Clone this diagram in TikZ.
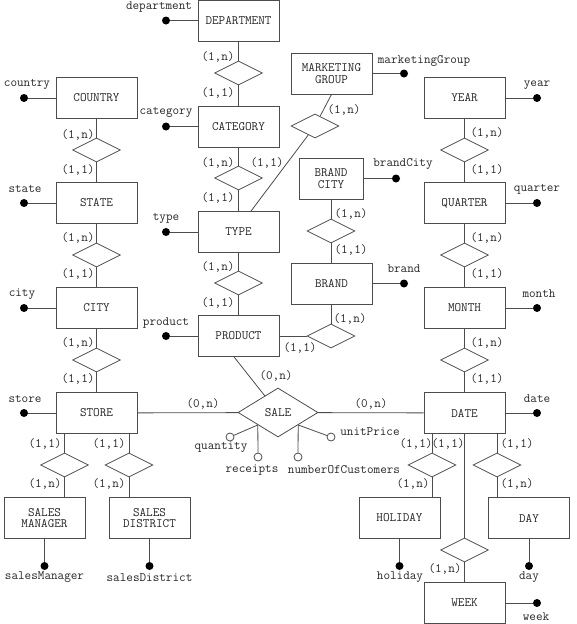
\documentclass[tikz,border=0pt]{standalone}
\usepackage{fontspec}
\usetikzlibrary{shapes.geometric,calc}
\begin{document}
\begin{tikzpicture}[x=1pt,y=-1pt,
  every node/.style={font=\ttfamily\fontsize{12.8}{11.5}\selectfont, text=black!85},
  ent/.style={draw=black!70, line width=0.8pt, minimum width=81pt, minimum height=41pt, inner sep=0pt, align=center},
  rel/.style={draw=black!70, line width=0.8pt, diamond, minimum width=48pt, minimum height=24pt, inner sep=0pt},
  conn/.style={draw=black!70, line width=0.8pt},
  att/.style={circle, fill=black, minimum size=8pt, inner sep=0pt},
  oatt/.style={circle, draw=black!70, fill=white, line width=0.8pt, minimum size=8pt, inner sep=0pt},
  lab/.style={inner sep=0pt}
]
\useasboundingbox (0,0) rectangle (576,624);
% entities
\node[ent] (dept) at (238.5,20.5) {DEPARTMENT};
\node[ent] (cat) at (238.5,126.5) {CATEGORY};
\node[ent] (type) at (238.5,232) {TYPE};
\node[ent] (prod) at (238.5,336) {PRODUCT};
\node[ent] (country) at (96.5,98) {COUNTRY};
\node[ent] (state) at (96.5,203) {STATE};
\node[ent] (city) at (96.5,308) {CITY};
\node[ent] (store) at (96.5,413) {STORE};
\node[ent] (mg) at (331.5,73.5) {MARKETING\\GROUP};
\node[ent, minimum width=64pt] (bcity) at (331,178.5) {BRAND\\CITY};
\node[ent] (brand) at (331.5,283.5) {BRAND};
\node[ent] (year) at (464.5,98) {YEAR};
\node[ent] (quarter) at (464.5,203) {QUARTER};
\node[ent] (month) at (464.5,308) {MONTH};
\node[ent] (date) at (464.5,413) {DATE};
\node[ent] (holiday) at (399.5,518) {HOLIDAY};
\node[ent] (day) at (529,518) {DAY};
\node[ent] (week) at (464.5,603) {WEEK};
\node[ent] (sm) at (44.5,518) {SALES\\MANAGER};
\node[ent] (sd) at (149.5,518) {SALES\\DISTRICT};
% relationships
\node[rel] (d1) at (238.5,73) {};
\node[rel] (d2) at (238.5,178) {};
\node[rel] (d3) at (238.5,283) {};
\node[rel] (mgd) at (315,126) {};
\node[rel] (c1) at (96.5,150) {};
\node[rel] (c2) at (96.5,255) {};
\node[rel] (c3) at (96.5,360) {};
\node[rel] (y1) at (464.5,150) {};
\node[rel] (y2) at (464.5,255) {};
\node[rel] (y3) at (464.5,360) {};
\node[rel] (bc) at (331,231) {};
\node[rel] (bp) at (331,336) {};
\node[rel, minimum width=80pt, minimum height=49pt] (sale) at (278,412.5) {SALE};
\node[rel] (hd) at (432,465) {};
\node[rel] (dd) at (497,465) {};
\node[rel] (wd) at (464.5,550) {};
\node[rel] (smd) at (64.5,465) {};
\node[rel] (sdd) at (129,465) {};
% connectors
\draw[conn] (dept) -- (d1) -- (cat) -- (d2) -- (type) -- (d3) -- (prod);
\draw[conn] (country) -- (c1) -- (state) -- (c2) -- (city) -- (c3) -- (store);
\draw[conn] (year) -- (y1) -- (quarter) -- (y2) -- (month) -- (y3) -- (date);
\draw[conn] (mg.south) -- (mgd);
\draw[conn] (mgd) -- ($(type.north)+(12.5,0)$);
\draw[conn] (bcity) -- (bc) -- (bcity |- brand.north);
\draw[conn] (brand.south -| bp) -- (bp);
\draw[conn] (prod) -- (bp);
\draw[conn] (store) -- (sale) -- (date);
\draw[conn] ($(prod.south)+(-4.5,0)$) -- (sale);
\draw[conn] (date.south -| hd) -- (hd) -- (hd |- holiday.north);
\draw[conn] (date.south -| dd) -- (dd) -- (dd |- day.north);
\draw[conn] (date) -- (wd) -- (week);
\draw[conn] (store.south -| smd) -- (smd) -- (smd |- sm.north);
\draw[conn] (store.south -| sdd) -- (sdd) -- (sdd |- sd.north);
% attributes
\node[att] (adept) at (166,20.5) {};
\node[att] (acountry) at (24,98) {};
\node[att] (acat) at (166,126.5) {};
\node[att] (astate) at (24,203) {};
\node[att] (atype) at (166,232) {};
\node[att] (acity) at (24,308) {};
\node[att] (aprod) at (166,336) {};
\node[att] (astore) at (24,413) {};
\node[att] (asm) at (44.5,566) {};
\node[att] (asd) at (149.5,566) {};
\node[att] (amg) at (404,73.5) {};
\node[att] (ayear) at (537,98) {};
\node[att] (abcity) at (396,178.5) {};
\node[att] (aquarter) at (537,203) {};
\node[att] (abrand) at (404,283.5) {};
\node[att] (amonth) at (537,308) {};
\node[att] (adate) at (537,413) {};
\node[att] (aholiday) at (399.5,566) {};
\node[att] (aday) at (529,566) {};
\node[att] (aweek) at (537,603) {};
\foreach \e/\a in {dept/adept,country/acountry,cat/acat,state/astate,type/atype,city/acity,prod/aprod,store/astore,sm/asm,sd/asd,mg/amg,year/ayear,bcity/abcity,quarter/aquarter,brand/abrand,month/amonth,date/adate,holiday/aholiday,day/aday,week/aweek}
  \draw[conn] (\e) -- (\a);
\node[lab] (ldept) at (159,7) {department};
\node[lab] (lcountry) at (27,84) {country};
\node[lab] (lcat) at (166,112.5) {category};
\node[lab] (lstate) at (25,189) {state};
\node[lab] (ltype) at (166,218) {type};
\node[lab] (lcity) at (22,294) {city};
\node[lab] (lprod) at (166,323) {product};
\node[lab] (lstore) at (25,399) {store};
\node[lab] (lsm) at (44.5,577.5) {salesManager};
\node[lab] (lsd) at (149.5,577.5) {salesDistrict};
\node[lab] (lmg) at (424,61) {marketingGroup};
\node[lab] (lyear) at (537,85) {year};
\node[lab] (lbcity) at (403,164) {brandCity};
\node[lab] (lquarter) at (537,189) {quarter};
\node[lab] (lbrand) at (404,269) {brand};
\node[lab] (lmonth) at (539,294) {month};
\node[lab] (ldate) at (537,399) {date};
\node[lab] (lholiday) at (400,577.5) {holiday};
\node[lab] (lday) at (529,577.5) {day};
\node[lab] (lweek) at (536,617) {week};
% sale attributes
\node[oatt] (oq) at (230,437) {};
\node[oatt] (or) at (258,457) {};
\node[oatt] (on) at (298,457) {};
\node[oatt] (ou) at (331,437) {};
\draw[conn] (sale.south west) -- (oq);
\draw[conn] (sale.south west) -- (or);
\draw[conn] (sale.south east) -- (on);
\draw[conn] (sale.south east) -- (ou);
\node[lab] (lq) at (221,447) {quantity};
\node[lab] (lr) at (252,470) {receipts};
\node[lab] (ln) at (344,470) {numberOfCustomers};
\node[lab] (lu) at (370,432) {unitPrice};
% cardinalities
\node[lab] (k1) at (218,57) {(1,n)};
\node[lab] (k2) at (218,93) {(1,1)};
\node[lab] (k3) at (218,163) {(1,n)};
\node[lab] (k4) at (218,198) {(1,1)};
\node[lab] (k5) at (267,163) {(1,1)};
\node[lab] (k6) at (218,267) {(1,n)};
\node[lab] (k7) at (218,303) {(1,1)};
\node[lab] (k8) at (78,135) {(1,n)};
\node[lab] (k9) at (78,170) {(1,1)};
\node[lab] (k10) at (78,238) {(1,n)};
\node[lab] (k11) at (78,274) {(1,1)};
\node[lab] (k12) at (78,343) {(1,n)};
\node[lab] (k13) at (78,379) {(1,1)};
\node[lab] (k14) at (344,110) {(1,n)};
\node[lab] (k15) at (487,133) {(1,n)};
\node[lab] (k16) at (487,170) {(1,1)};
\node[lab] (k17) at (487,238) {(1,n)};
\node[lab] (k18) at (487,274) {(1,1)};
\node[lab] (k19) at (487,343) {(1,n)};
\node[lab] (k20) at (487,379) {(1,1)};
\node[lab] (k21) at (351,214) {(1,n)};
\node[lab] (k22) at (351,250) {(1,1)};
\node[lab] (k23) at (350,319) {(1,n)};
\node[lab] (k24) at (300,348) {(1,1)};
\node[lab] (k25) at (276,376) {(0,n)};
\node[lab] (k26) at (203,404) {(0,n)};
\node[lab] (k27) at (371,404) {(0,n)};
\node[lab] (k28) at (416,444) {(1,1)};
\node[lab] (k29) at (448,444) {(1,1)};
\node[lab] (k30) at (517,444) {(1,1)};
\node[lab] (k31) at (413,484) {(1,n)};
\node[lab] (k32) at (517,484) {(1,n)};
\node[lab] (k33) at (445,569) {(1,n)};
\node[lab] (k34) at (45,444) {(1,1)};
\node[lab] (k35) at (109,444) {(1,1)};
\node[lab] (k36) at (45,484) {(1,n)};
\node[lab] (k37) at (109,484) {(1,n)};
\end{tikzpicture}
\end{document}
